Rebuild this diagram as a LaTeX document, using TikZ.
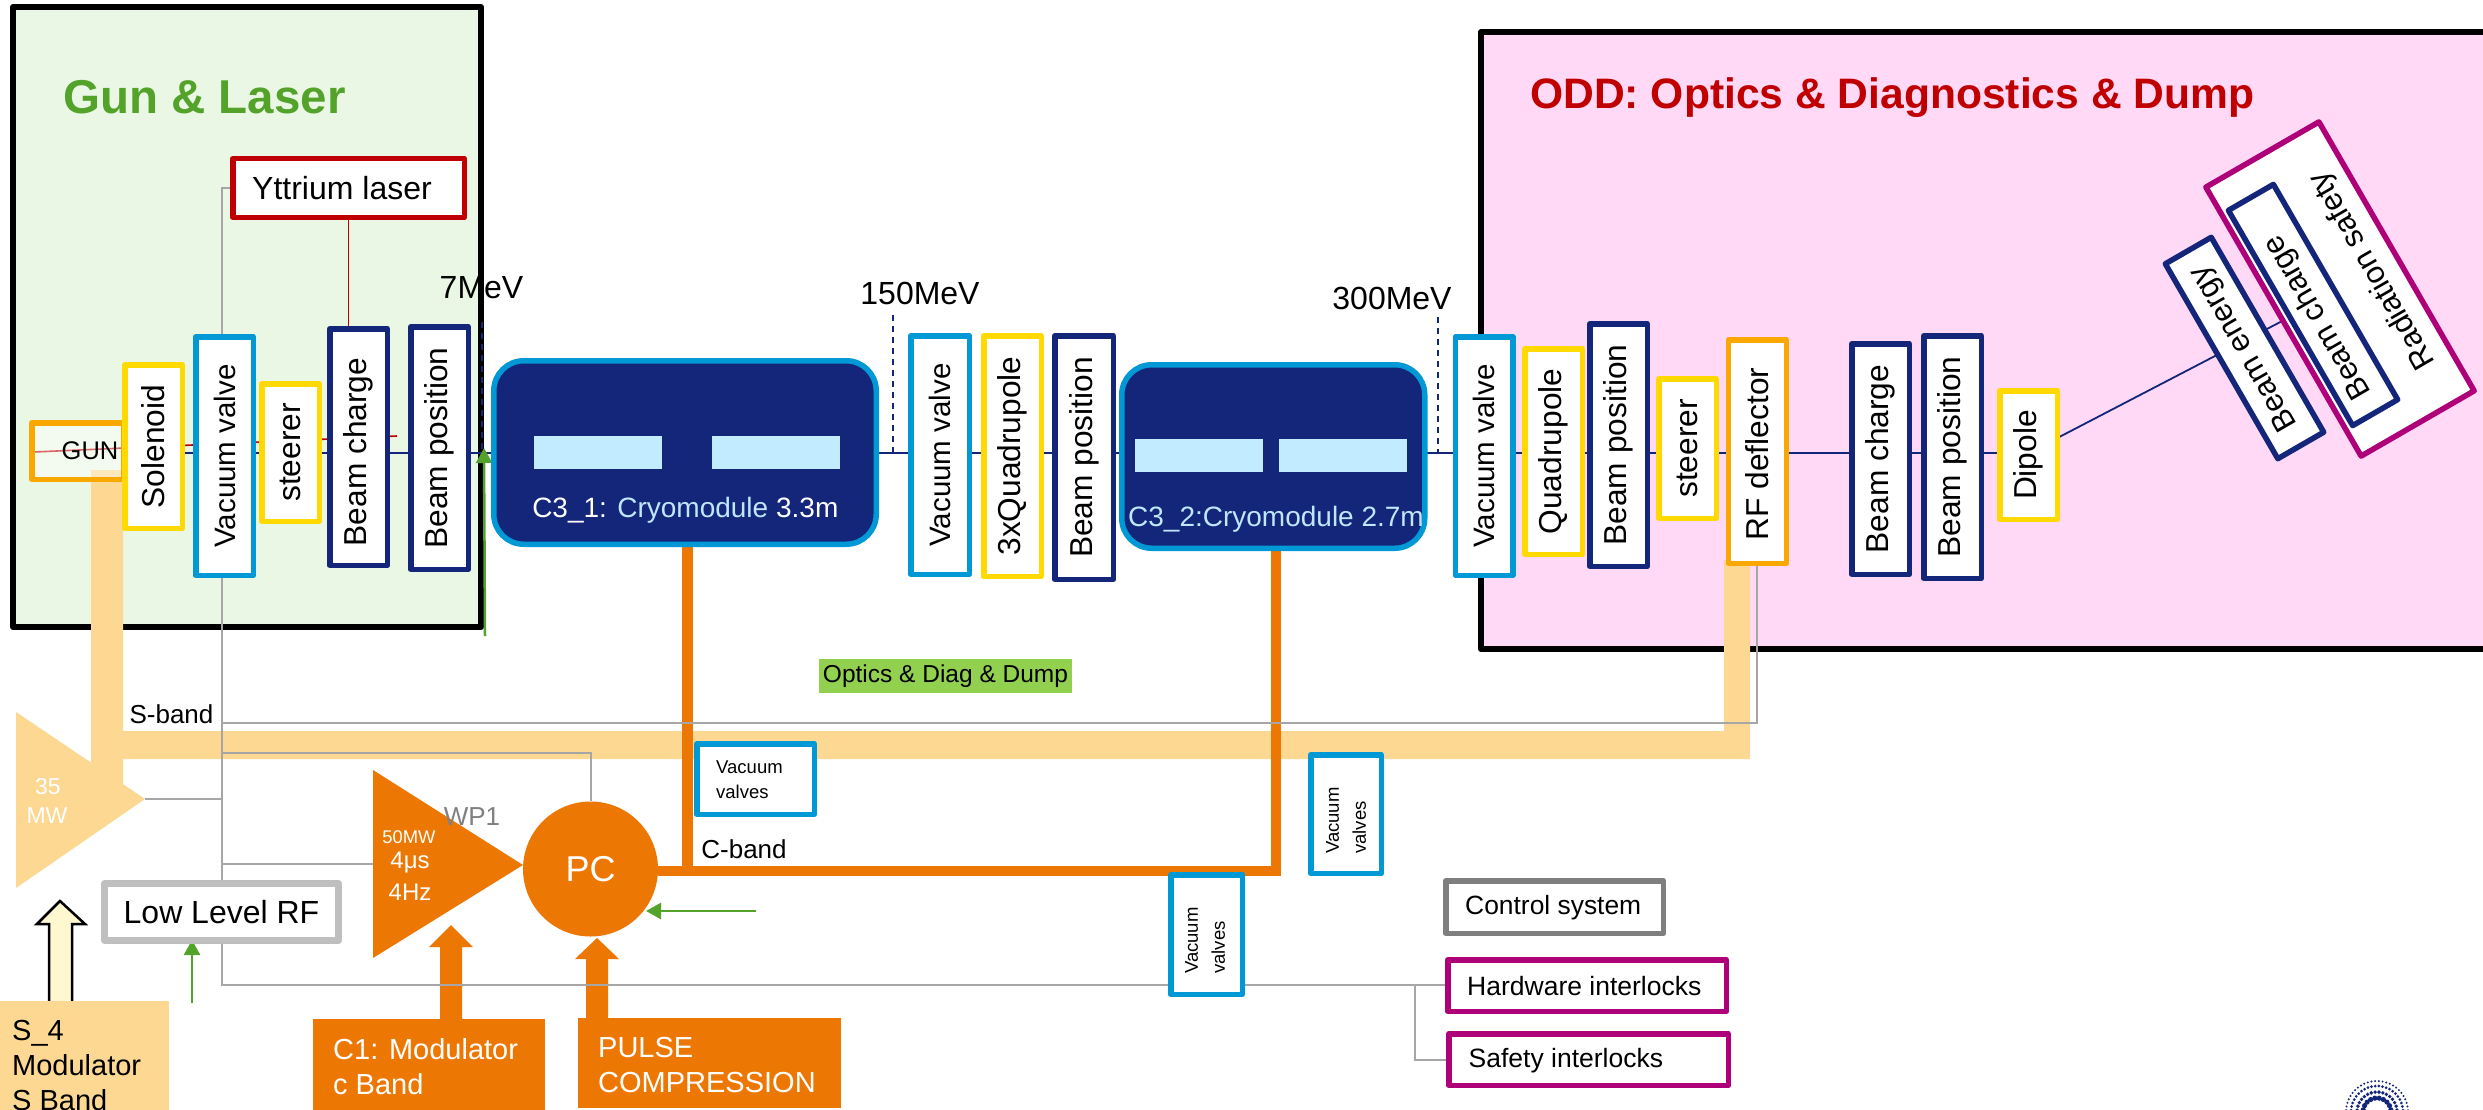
\documentclass[tikz,border=0pt]{standalone}
\usepackage{fontspec}
\setmainfont{Liberation Sans}
\usetikzlibrary{arrows.meta}
\pgfdeclarelayer{panels}
\pgfdeclarelayer{lines}
\pgfsetlayers{panels,lines,main}
\definecolor{navy}{HTML}{14267A}
\definecolor{cyanb}{HTML}{0099D5}
\definecolor{yel}{HTML}{FFD900}
\definecolor{gold}{HTML}{F9A800}
\definecolor{org}{HTML}{ED7703}
\definecolor{sand}{HTML}{FDD892}
\definecolor{mag}{HTML}{AE0078}
\definecolor{redd}{HTML}{C00000}
\definecolor{gryl}{HTML}{A6A6A6}
\definecolor{grnl}{HTML}{53A32B}
\definecolor{gunbg}{HTML}{EBF7E5}
\definecolor{pinkbg}{HTML}{FFD9F5}
\definecolor{cryt}{HTML}{BFE6FA}
\definecolor{cryi}{HTML}{C2EBFF}
\definecolor{optg}{HTML}{92D050}
\definecolor{llg}{HTML}{BFBFBF}
\definecolor{ctlg}{HTML}{7F7F7F}
\definecolor{paley}{HTML}{FFF7D0}
\newcommand{\fs}[1]{\fontsize{#1}{40}\selectfont}
\newcommand{\hbx}[7]{\node[#6,minimum width={(#4-#2-5.5)*1pt},minimum height={(#5-#3-5.5)*1pt}] (#1) at ({(#2+#4)/2},{(#3+#5)/2}) {#7};}
\newcommand{\vbx}[7]{\node[#6,rotate=90,minimum width={(#5-#3-5.5)*1pt},minimum height={(#4-#2-5.5)*1pt}] (#1) at ({(#2+#4)/2},{(#3+#5)/2}) {#7};}
\tikzset{
  box/.style={draw,fill=white,line width=5.5pt,line join=round,inner sep=0pt,text=black,font=\fs{31.7}},
  navybox/.style={box,draw=navy},
  cyanbox/.style={box,draw=cyanb},
  yelbox/.style={box,draw=yel},
  magbox/.style={box,draw=mag},
  lab/.style={inner sep=0pt,text=black},
  beam/.style={draw=navy,line width=1.8pt},
  redl/.style={draw=redd,line width=1.6pt},
  gryline/.style={draw=gryl,line width=2pt},
  orgline/.style={draw=org,line width=10.5pt},
  grnarrow/.style={draw=grnl,line width=2.5pt,-{Triangle[length=15pt,width=16pt]}},
  dashl/.style={draw=navy,line width=1.7pt,dash pattern=on 6pt off 5pt},
  panel/.style={draw=black,line width=6pt,line join=round},
  cryo/.style={draw=cyanb,fill=navy,line width=5.5pt,rounded corners=30pt,inner sep=0pt},
  cryin/.style={fill=cryi,draw=none,inner sep=0pt},
}
\begin{document}
\begin{tikzpicture}[x=1pt,y=-1pt]
\useasboundingbox (0,0) rectangle (2483,1110);
\begin{pgfonlayer}{panels}
\fill[white] (0,0) rectangle (2483,1110);
\path[panel,fill=gunbg] (13,7) rectangle (481,627);
\path[panel,fill=pinkbg] (1481,32) rectangle (2500,649);
\end{pgfonlayer}
% titles
\node[lab,anchor=west,text=grnl,font=\fs{47.5}\bfseries] (tgun) at (63,97.5) {Gun \& Laser};
\node[lab,anchor=west,text=redd,font=\fs{42.6}\bfseries] (todd) at (1530,98) {ODD: Optics \& Diagnostics \& Dump};
% gun line
\hbx{gun}{29}{420}{126}{482}{box,draw=gold,fill opacity=.4,text opacity=1,draw opacity=1,font=\fs{25.5}}{\hspace*{25pt}GUN}
\vbx{sol}{122}{362}{185}{531}{yelbox}{Solenoid}
\vbx{vv1}{193}{334}{256}{578}{cyanbox}{\fs{29.5}Vacuum valve}
\vbx{st1}{259}{381}{322}{524}{yelbox}{steerer}
\vbx{bc1}{327}{326}{390}{568}{navybox}{\raisebox{0pt}{\hspace*{-10pt}Beam charge}}
\vbx{bp1}{408}{324}{471}{572}{navybox}{Beam position}
\hbx{laser}{230}{156}{467}{220}{box,draw=redd,font=\fs{32}}{\hspace*{-13pt}Yttrium laser}
% cryomodules
\hbx{c1}{491}{358}{879}{547}{cryo}{}
\node[cryin,minimum width=128pt,minimum height=33pt] (c1a) at (598,452.5) {};
\node[cryin,minimum width=128pt,minimum height=33pt] (c1b) at (776,452.5) {};
\node[lab,text=white,font=\fs{28}] (c1t) at (685.3,510) {C3\_1: \textcolor{cryt}{Cryomodule} 3.3m};
\hbx{c2}{1119}{362}{1427.5}{551}{cryo}{}
\node[cryin,minimum width=128pt,minimum height=33pt] (c2a) at (1199,455.5) {};
\node[cryin,minimum width=128pt,minimum height=33pt] (c2b) at (1343,455.5) {};
\node[lab,text=cryt,font=\fs{28}] (c2t) at (1276,519) {C3\_2:Cryomodule 2.7m};
% middle
\vbx{vv2}{908}{333}{972}{577}{cyanbox}{\fs{29.5}Vacuum valve}
\vbx{qd2}{981}{333}{1044}{579}{yelbox}{3xQuadrupole}
\vbx{bp2}{1052}{333}{1116}{582}{navybox}{Beam position}
\vbx{vv3}{1452.5}{334}{1515.5}{578}{cyanbox}{\fs{29.5}Vacuum valve}
\vbx{qd3}{1522}{346}{1585}{557}{yelbox}{Quadrupole}
\vbx{bp3}{1587}{321}{1650}{569}{navybox}{Beam position}
\vbx{st3}{1656}{376}{1719}{521}{yelbox}{steerer}
\vbx{rfd}{1725.5}{337}{1789}{566}{box,draw=gold}{\hspace*{-5pt}RF deflector}
\vbx{bc3}{1849}{341}{1912}{577}{navybox}{Beam charge}
\vbx{bp4}{1921}{333}{1984}{581}{navybox}{Beam position}
\vbx{dip}{1997}{388}{2060}{522}{yelbox}{Dipole}
% rotated
\node[magbox,rotate=120,minimum width=310.5pt,minimum height=130.5pt] (rad) at (2340,289) {};
\node[lab,rotate=120,font=\fs{31}] (radt) at (2373,270) {Radiation safety};
\node[navybox,rotate=120,minimum width=248.5pt,minimum height=52pt] (bc4) at (2313,305) {};
\node[lab,rotate=120,font=\fs{31}] (bc4t) at (2318,317) {Beam charge};
\node[navybox,rotate=120,font=\fs{31},minimum width=225pt,minimum height=53pt] (ben) at (2244.5,348) {Beam energy};
% energies
\node[lab,font=\fs{32}] (e7) at (481.5,288) {7MeV};
\node[lab,font=\fs{32}] (e150) at (920,293) {150MeV};
\node[lab,font=\fs{32}] (e300) at (1392,298) {300MeV};
\coordinate (bl) at (0,453);
% lower part
\node[draw=none,fill=optg,inner sep=0pt,minimum width=253pt,minimum height=34pt,font=\fs{24.5}] (opt) at (945.5,676) {Optics \& Diag \& Dump};
\node[lab,font=\fs{26}] (sb) at (171.5,714) {S-band};
\node[lab,font=\fs{26}] (cb) at (744,849) {C-band};
\node[fill=org,inner sep=0pt,minimum width=135pt,minimum height=135pt,circle,text=white,font=\fs{36}] (pc) at (590.5,869) {PC};
\hbx{vva}{694}{741}{817}{817}{cyanbox}{}
\node[lab,anchor=west,align=left,font=\fontsize{18.5}{25}\selectfont] (vvat) at (716,779.5) {Vacuum\\valves};
\hbx{vvb}{1308}{752}{1384}{876}{cyanbox}{}
\node[lab,anchor=west,rotate=90,align=left,font=\fontsize{18.5}{27}\selectfont] (vvbt) at (1346,854) {Vacuum\\valves};
\hbx{vvc}{1168}{872}{1245}{997}{cyanbox}{}
\node[lab,anchor=west,rotate=90,align=left,font=\fontsize{18.5}{27}\selectfont] (vvct) at (1205,974) {Vacuum\\valves};
\hbx{llrf}{102}{881}{341}{943}{box,draw=llg,line width=7pt,font=\fs{32}}{Low Level RF}
\hbx{ctl}{1443}{878}{1666}{936}{box,draw=ctlg,font=\fs{26.4}}{}
\node[lab,anchor=west,font=\fs{26.4}] (ctlt) at (1465,908) {Control system};
\hbx{hw}{1445}{957}{1729}{1014}{magbox}{}
\node[lab,anchor=west,font=\fs{26.5}] (hwt) at (1467,986) {Hardware interlocks};
\hbx{sf}{1446}{1031}{1731}{1088}{magbox}{}
\node[lab,anchor=west,font=\fs{26.5}] (sft) at (1468.5,1061) {Safety interlocks};
% bottom filled boxes
\node[fill=sand,inner sep=0pt,minimum width=169pt,minimum height=114pt] (s4) at (84.5,1058) {};
\node[lab,anchor=north west,align=left,font=\fontsize{29}{35}\selectfont] (s4t) at (12,1020) {S\_4\\Modulator\\S Band};
\node[fill=org,inner sep=0pt,minimum width=232pt,minimum height=96pt] (c1m) at (429,1067) {};
\node[lab,anchor=north west,align=left,text=white,font=\fontsize{29}{35}\selectfont] (c1mt) at (333,1038) {C1: Modulator\\c Band};
\node[fill=org,inner sep=0pt,minimum width=263pt,minimum height=90pt] (plc) at (709.5,1063) {};
\node[lab,anchor=north west,align=left,text=white,font=\fontsize{29}{35}\selectfont] (plct) at (598,1037) {PULSE\\COMPRESSION};
% triangles' labels
\node[lab,text=white,font=\fs{23}] (t35) at (48,787) {35};
\node[lab,text=white,font=\fs{23}] (tmw) at (47,816) {MW};
\node[lab,text=white,font=\fs{18.4}] (t50) at (409,837) {50MW};
\node[lab,text=white,font=\fs{24}] (t4u) at (410,863) {4μs};
\node[lab,text=white,font=\fs{24}] (t4h) at (410,892) {4Hz};
\coordinate (sTipL) at (145,799);
\coordinate (cTipL) at (373,864);
\coordinate (busT) at (222,188);
\coordinate (busB) at (222,985);
\coordinate (sJ) at (222,723);
\coordinate (sE) at (1757,723);
\coordinate (pcJ) at (222,753);
\coordinate (hwJ) at (1415,986);
\coordinate (redA) at (34,452);
\coordinate (redB) at (397,436);
\coordinate (redV) at (348.5,0);
\coordinate (cv1) at (687.5,0);
\coordinate (cv2) at (1276,0);
\coordinate (cEnd1) at (687.5,871);
\coordinate (cEnd2) at (1276,876);
\coordinate (cRight) at (1281,871);
\begin{pgfonlayer}{lines}
% sand band
\fill[sand] (91,470) -- (123,470) -- (123,731) -- (1724,731) -- (1724,560) -- (1750,560) -- (1750,759) -- (123,759) -- (123,790) -- (91,790) -- cycle;
\fill[sand] (16,712) -- (145,799) -- (16,888) -- cycle;
% beam and laser lines
\draw[redl] (redA) -- (redB);
\draw[redl] (laser.south -| redV) -- (bc1.east -| redV);
\draw[beam] (sol |- bl) -- (dip |- bl);
\draw[beam] (dip |- bl) -- (bc4);
\draw[dashl] (482,322) -- (482,453);
\draw[dashl] (893,315) -- (893,453);
\draw[dashl] (1438,317) -- (1438,453);
% orange
\fill[org] (373,770) -- (523,865) -- (373,958) -- cycle;
\draw[orgline] (pc.east |- cRight) -- (cRight);
\draw[orgline] (c1.south -| cv1) -- (cEnd1);
\draw[orgline] (c2.south -| cv2) -- (cEnd2);
\fill[org] (440,1030) -- (440,947) -- (429,947) -- (451,925) -- (473,947) -- (462,947) -- (462,1030) -- cycle;
\fill[org] (586,1030) -- (586,959) -- (575,959) -- (597,938) -- (619,959) -- (608,959) -- (608,1030) -- cycle;
% grey
\draw[gryline] (laser.west |- busT) -- (busT) -- (llrf.north -| busT);
\draw[gryline] (llrf.south -| busT) -- (busB) -- (hw.west |- busB);
\draw[gryline] (sTipL) -- (sTipL -| busT);
\draw[gryline] (cTipL) -- (cTipL -| busT);
\draw[gryline] (sJ) -- (sE) -- (rfd.west -| sE);
\draw[gryline] (pcJ) -- (pcJ -| pc) -- (pc.north);
\draw[gryline] (hwJ) |- (sf.west);
% white-yellow arrow
\draw[fill=paley,line width=2.5pt,line join=miter] (60,901) -- (85,924) -- (72,924) -- (72,1004) -- (49,1004) -- (49,924) -- (37,924) -- cycle;
% green
\draw[grnarrow] (192,1003) -- (192,940);
\draw[grnarrow] (756,911) -- (646,911);
\draw[grnarrow] (485,636) -- (484,448);
\end{pgfonlayer}
\node[lab,text=gray,font=\fs{26}] (wp1) at (472,817) {WP1};
% logo
\foreach \r/\s/\n in {14/2.6/10,20/1.9/16,26/1.5/22,31/1.1/26}{
  \pgfmathsetmacro{\st}{180/\n}
  \foreach \i in {1,...,\n}{
    \fill[navy] (2377,1112) ++({\i*\st-\st/2}:{\r} and {-\r}) circle[radius=\s];
  }
}
\end{tikzpicture}
\end{document}
